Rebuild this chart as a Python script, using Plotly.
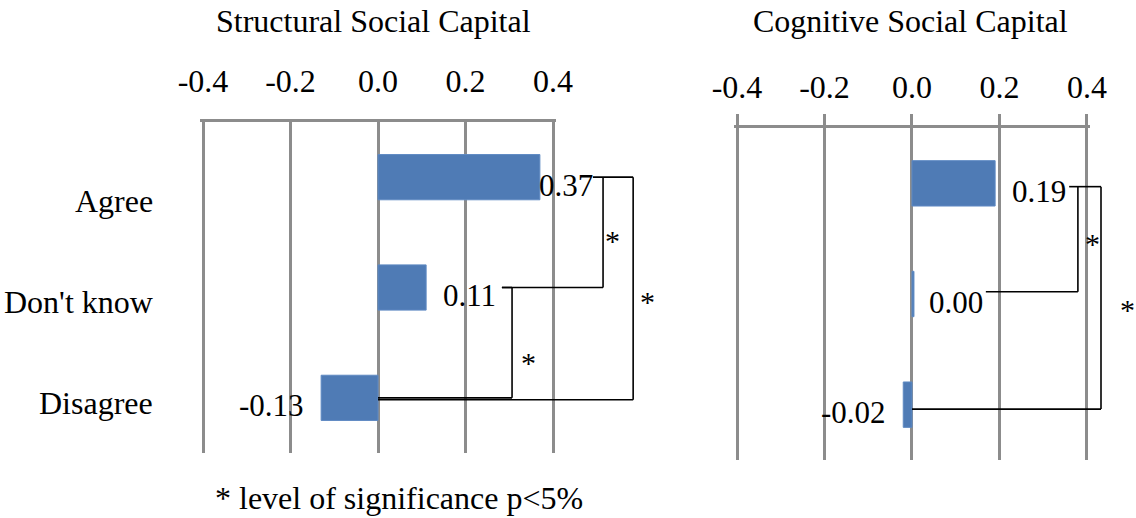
import plotly.graph_objects as go

# data
categories = ['Agree', "Don't know", 'Disagree']
structural = [0.37, 0.11, -0.13]
cognitive = [0.19, 0.0045, -0.02]
tick_vals = [-0.4, -0.2, 0.0, 0.2, 0.4]
tick_text = ['-0.4', '-0.2', '0.0', '0.2', '0.4']
titles = ['Structural Social Capital', 'Cognitive Social Capital']
footnote = '* level of significance p<5%'

FONT = 'Liberation Serif'
BAR = '#4f7bb5'
GRID = '#8c8c8c'
W, H = 1136, 518


def fx(px):
    return px / W


def fy(py):
    return (H - py) / H


# axis range slightly wider than +-0.4 so plotly keeps the edge grid lines
EPS = 0.006
K = 350 / 0.8


def x_domain(left, right):
    return [fx(left - EPS * K), fx(right + EPS * K)]


# significance brackets: polylines in (fraction of the +-0.4 span, category index)
brackets = {
    'x': [
        [(1.114, 0.0), (1.229, 0.0), (1.229, 2.018), (0.5, 2.018)],
        [(1.143, 0.0), (1.143, 1.0), (0.854, 1.0)],
        [(0.854, 1.0), (0.883, 1.0), (0.883, 2.0), (0.5, 2.0)],
    ],
    'x2': [
        [(0.949, 0.03), (1.040, 0.03), (1.040, 2.04), (0.5, 2.04)],
        [(0.974, 0.03), (0.974, 0.98), (0.711, 0.98)],
    ],
}
stars = {
    'x': [(1.171, 0.57), (1.271, 1.13), (0.929, 1.68)],
    'x2': [(1.017, 0.54), (1.117, 1.14)],
}

fig = go.Figure()
for vals, xa, ya in [(structural, 'x', 'y'), (cognitive, 'x2', 'y2')]:
    fig.add_trace(go.Bar(x=vals, y=categories, orientation='h', xaxis=xa, yaxis=ya,
                         width=0.41, marker=dict(color=BAR, line=dict(color='#5f8ac3', width=1)),
                         showlegend=False, hoverinfo='skip'))

axis_x = dict(range=[-0.4 - EPS, 0.4 + EPS], side='top', tickvals=tick_vals, ticktext=tick_text,
              showgrid=True, gridcolor=GRID, gridwidth=3, zeroline=False,
              showline=True, linecolor=GRID, linewidth=3, automargin=False,
              tickfont=dict(family=FONT, size=32, color='black'), fixedrange=True)
axis_y = dict(type='category', categoryarray=categories, range=[2.5, -0.5], automargin=False,
              showticklabels=False, showgrid=False, zeroline=False, showline=False)

fig.update_layout(
    template='none', autosize=False,
    width=W, height=H, margin=dict(l=0, r=0, t=0, b=0, pad=0, autoexpand=False),
    paper_bgcolor='white', plot_bgcolor='white',
    font=dict(family=FONT, color='black'),
    xaxis=dict(axis_x, domain=x_domain(203, 553), anchor='y', ticks='', ticklabelstandoff=14),
    yaxis=dict(axis_y, domain=[fy(453), fy(122)], anchor='x'),
    xaxis2=dict(axis_x, domain=x_domain(737, 1087), anchor='y2', ticks='outside',
                ticklen=11, tickwidth=3, tickcolor=GRID, ticklabelstandoff=3),
    yaxis2=dict(axis_y, domain=[fy(460), fy(128)], anchor='x2'),
)


def dom(v):
    # fraction of the +-0.4 span -> fraction of the widened domain
    return (v * 0.8 + EPS) / (0.8 + 2 * EPS)


# bracket lines
for xa, paths in brackets.items():
    ya = 'y' if xa == 'x' else 'y2'
    for path in paths:
        for (x0, y0), (x1, y1) in zip(path[:-1], path[1:]):
            fig.add_shape(type='line', xref=xa + ' domain', yref=ya,
                          x0=dom(x0), x1=dom(x1), y0=y0, y1=y1,
                          line=dict(color='black', width=1.6))

for xa, pts in stars.items():
    ya = 'y' if xa == 'x' else 'y2'
    for sx, sy in pts:
        fig.add_annotation(xref=xa + ' domain', yref=ya, x=dom(sx), y=sy, text='*', showarrow=False,
                           font=dict(family=FONT, size=30), xanchor='center', yanchor='middle')

# value labels
label_dx = {'x': [-3, 15, -15], 'x2': [15, 13, -15]}
for vals, xa, ya in [(structural, 'x', 'y'), (cognitive, 'x2', 'y2')]:
    for i, (cat, v) in enumerate(zip(categories, vals)):
        fig.add_annotation(xref=xa, yref=ya, x=v, y=cat, text=f'{v:.2f}', showarrow=False,
                           font=dict(family=FONT, size=31), xanchor='left' if v >= 0 else 'right',
                           yanchor='middle', xshift=label_dx[xa][i], yshift=-8)

# category labels (set lower than the bars, as in the source)
for cat, py in zip(categories, [201, 302, 403]):
    fig.add_annotation(xref='paper', yref='paper', x=fx(155), y=fy(py), text=cat,
                       showarrow=False, font=dict(family=FONT, size=32), xanchor='right', yanchor='middle')

for t, cx in zip(titles, [373, 910]):
    fig.add_annotation(xref='paper', yref='paper', x=fx(cx), y=fy(21), text=t,
                       showarrow=False, font=dict(family=FONT, size=32), xanchor='center', yanchor='middle')

fig.add_annotation(xref='paper', yref='paper', x=fx(399), y=fy(498), text=footnote,
                   showarrow=False, font=dict(family=FONT, size=32), xanchor='center', yanchor='middle')

# drop the default page margin so the figure sits at the window's corner
fig.write_html('out.html', config=dict(displayModeBar=False),
               post_script="document.body.style.margin = '0';")
